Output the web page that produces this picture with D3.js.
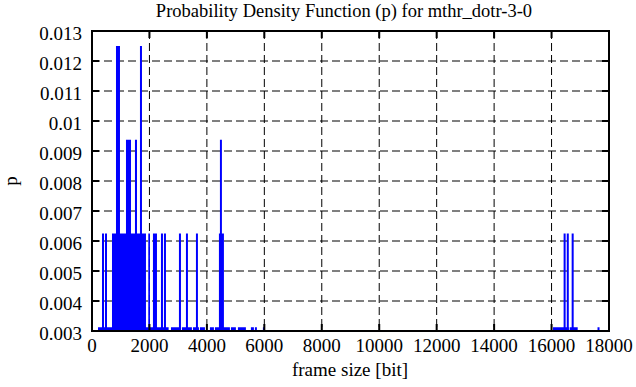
<!DOCTYPE html>
<html>
<head>
<meta charset="utf-8">
<script src="https://cdn.jsdelivr.net/npm/d3@7"></script>
<style>
  body { margin: 0; background: #fff; }
</style>
</head>
<body>
<div id="chart-area"></div>
<script>
// frame size bins [bit] and their probability
const binFrom = [209, 2749, 3131, 3514, 3758, 4106, 4280, 4837, 5080, 5532, 5672, 5950, 16050, 16630, 17600,
                 348, 452, 696, 1960, 2122, 2401, 2505, 3027, 3271, 3619, 4419, 16420, 16530, 16700,
                 1183, 1496, 4454,
                 835, 1670];
const binTo   = [2668, 3085, 3479, 3723, 3932, 4245, 4802, 5010, 5358, 5637, 5741, 6020, 16600, 16910, 17670,
                 418, 522, 1879, 2018, 2262, 2471, 2575, 3097, 3340, 3688, 4593, 16490, 16600, 16770,
                 1357, 1566, 4523,
                 974, 1740];
const binP    = [0.003125, 0.003125, 0.003125, 0.003125, 0.003125, 0.003125, 0.003125, 0.003125, 0.003125, 0.003125, 0.003125, 0.003125, 0.003125, 0.003125, 0.003125,
                 0.00625, 0.00625, 0.00625, 0.00625, 0.00625, 0.00625, 0.00625, 0.00625, 0.00625, 0.00625, 0.00625, 0.00625, 0.00625, 0.00625,
                 0.009375, 0.009375, 0.009375,
                 0.0125, 0.0125];

const xTicks = [0, 2000, 4000, 6000, 8000, 10000, 12000, 14000, 16000, 18000];
const yTicks = [0.003, 0.004, 0.005, 0.006, 0.007, 0.008, 0.009, 0.01, 0.011, 0.012, 0.013];

const margin = {top: 31, right: 27, bottom: 56, left: 92};
const W = 636, H = 387;
const width = W - margin.left - margin.right;
const height = H - margin.top - margin.bottom;
const serif = '"Liberation Serif", "Times New Roman", Times, serif';

const svg = d3.select('#chart-area')
    .append('svg')
    .attr('width', W)
    .attr('height', H)
    .attr('font-family', serif);

const g = svg.append('g')
    .attr('transform', `translate(${margin.left}, ${margin.top})`);

const x = d3.scaleLinear().domain([0, 18000]).range([0, width]);
const y = d3.scaleLinear().domain([0.003, 0.013]).range([height, 0]);

// grid
g.selectAll('.hgrid')
    .data(yTicks.slice(1, -1))
    .enter().append('line')
    .attr('x1', 0).attr('x2', width)
    .attr('y1', d => y(d)).attr('y2', d => y(d))
    .attr('stroke', '#000').attr('stroke-width', 1)
    .attr('stroke-dasharray', '8,4');

g.selectAll('.vgrid')
    .data(xTicks.slice(1, -1))
    .enter().append('line')
    .attr('x1', d => x(d)).attr('x2', d => x(d))
    .attr('y1', 0).attr('y2', height)
    .attr('stroke', '#000').attr('stroke-width', 1)
    .attr('stroke-dasharray', '8,4');

// bars
const bars = binP.map((p, i) => ({from: binFrom[i], to: binTo[i], p: p}));
g.selectAll('rect.bar')
    .data(bars)
    .enter().append('rect')
    .attr('class', 'bar')
    .attr('x', d => x(d.from))
    .attr('width', d => x(d.to) - x(d.from))
    .attr('y', d => y(d.p))
    .attr('height', d => height - y(d.p))
    .attr('fill', '#0000ff');

// ticks (inward, all four sides)
const tl = 7;
g.selectAll('.ytickL').data(yTicks).enter().append('line')
    .attr('x1', 0).attr('x2', tl).attr('y1', d => y(d)).attr('y2', d => y(d))
    .attr('stroke', '#000').attr('stroke-width', 2);
g.selectAll('.ytickR').data(yTicks).enter().append('line')
    .attr('x1', width - tl).attr('x2', width).attr('y1', d => y(d)).attr('y2', d => y(d))
    .attr('stroke', '#000').attr('stroke-width', 2);
g.selectAll('.xtickB').data(xTicks).enter().append('line')
    .attr('x1', d => x(d)).attr('x2', d => x(d)).attr('y1', height - tl).attr('y2', height)
    .attr('stroke', '#000').attr('stroke-width', 2);
g.selectAll('.xtickT').data(xTicks).enter().append('line')
    .attr('x1', d => x(d)).attr('x2', d => x(d)).attr('y1', 0).attr('y2', tl)
    .attr('stroke', '#000').attr('stroke-width', 2);

// border
g.append('rect')
    .attr('x', 0).attr('y', 0).attr('width', width).attr('height', height)
    .attr('fill', 'none').attr('stroke', '#000').attr('stroke-width', 2);

// tick labels
const fmtY = d => String(+d.toFixed(3));
g.selectAll('.ylab').data(yTicks).enter().append('text')
    .attr('x', -10).attr('y', d => y(d) + 9)
    .attr('text-anchor', 'end')
    .attr('font-family', serif)
    .attr('font-size', 19)
    .text(fmtY);

g.selectAll('.xlab').data(xTicks).enter().append('text')
    .attr('x', d => x(d)).attr('y', height + 21)
    .attr('text-anchor', 'middle')
    .attr('font-family', serif)
    .attr('font-size', 19)
    .text(d => d);

// titles
svg.append('text')
    .attr('x', 344).attr('y', 17)
    .attr('text-anchor', 'middle')
    .attr('font-family', serif)
    .attr('font-size', 18.5)
    .text('Probability Density Function (p) for mthr_dotr-3-0');

svg.append('text')
    .attr('x', 350).attr('y', 376)
    .attr('text-anchor', 'middle')
    .attr('font-family', serif)
    .attr('font-size', 19)
    .text('frame size [bit]');

svg.append('text')
    .attr('transform', 'translate(17, 181) rotate(-90)')
    .attr('text-anchor', 'middle')
    .attr('font-family', serif)
    .attr('font-size', 19)
    .text('p');
</script>
</body>
</html>
